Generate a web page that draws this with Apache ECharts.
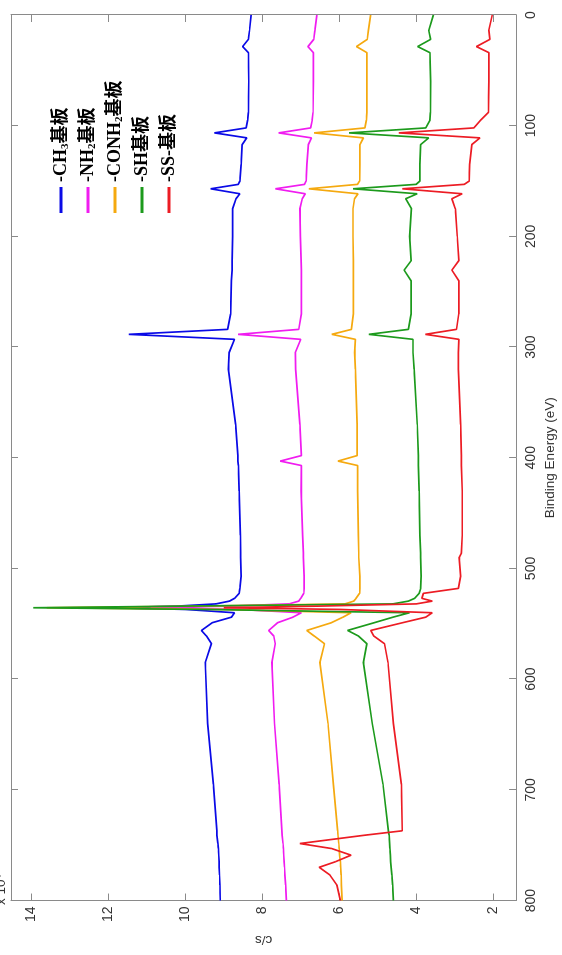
<!DOCTYPE html>
<html>
<head>
<meta charset="utf-8">
<script src="https://cdn.jsdelivr.net/npm/echarts@6/dist/echarts.min.js"></script>
<style>
html,body{margin:0;padding:0;background:#fff;overflow:hidden;}
#wrap{position:absolute;left:0;top:0;width:562px;height:955px;overflow:hidden;background:#fff;}
/* the figure is drawn landscape and turned a quarter turn to the left */
#chart{position:absolute;left:0;top:0;width:955px;height:562px;transform-origin:0 0;transform:translate(0,955px) rotate(-90deg);}
</style>
</head>
<body>
<div id="wrap"><div id="chart"></div></div>
<script>
// binding energy (eV), shared by all spectra
var energy = [0, 14, 22, 28.5, 34, 60, 88, 95, 102, 106.5,
    111, 117, 135, 150, 153, 157, 161.5, 166, 175, 200,
    222, 230.5, 240, 270, 284, 288.5, 293, 305, 320, 370,
    398, 403, 407, 430, 470, 486, 490, 507, 518, 522.5,
    527, 529.5, 532, 534, 535.5, 537, 540, 544, 549, 556,
    561, 568, 585, 640, 695, 737, 741, 748.5, 753, 759,
    765, 770, 777, 786, 800];

// intensities, x 10^4 c/s
var ch3 = [8.29, 8.33, 8.36, 8.51, 8.36, 8.35, 8.36, 8.38, 8.42, 9.24,
    8.40, 8.52, 8.55, 8.58, 8.62, 9.34, 8.58, 8.68, 8.77, 8.77,
    8.78, 8.78, 8.80, 8.82, 8.90, 11.47, 8.72, 8.86, 8.88, 8.69,
    8.63, 8.63, 8.62, 8.60, 8.57, 8.56, 8.56, 8.55, 8.58, 8.60,
    8.72, 8.85, 9.20, 10.2, 11.9, 10.0, 8.72, 8.80, 9.30, 9.58,
    9.45, 9.32, 9.48, 9.42, 9.27, 9.18, 9.18, 9.15, 9.14, 9.13,
    9.12, 9.12, 9.11, 9.10, 9.09];
var nh2 = [6.58, 6.63, 6.66, 6.81, 6.67, 6.67, 6.68, 6.70, 6.74, 7.57,
    6.72, 6.80, 6.84, 6.86, 6.90, 7.66, 6.88, 6.96, 7.02, 7.01,
    6.99, 6.98, 6.98, 6.98, 7.05, 8.63, 7.00, 7.14, 7.13, 7.02,
    6.98, 7.53, 6.98, 6.99, 6.95, 6.93, 6.93, 6.91, 6.91, 6.92,
    7.00, 7.05, 7.30, 8.80, 10.9, 8.60, 6.98, 7.20, 7.60, 7.83,
    7.70, 7.66, 7.75, 7.68, 7.56, 7.49, 7.48, 7.46, 7.45, 7.44,
    7.43, 7.42, 7.41, 7.39, 7.37];
var conh2 = [5.18, 5.24, 5.27, 5.55, 5.28, 5.28, 5.28, 5.29, 5.33, 6.65,
    5.37, 5.46, 5.46, 5.47, 5.52, 6.79, 5.51, 5.60, 5.64, 5.64,
    5.63, 5.63, 5.63, 5.63, 5.68, 6.19, 5.58, 5.60, 5.58, 5.53,
    5.53, 6.03, 5.52, 5.52, 5.50, 5.49, 5.49, 5.46, 5.46, 5.47,
    5.56, 5.62, 5.85, 9.50, 13.6, 9.00, 5.69, 5.90, 6.20, 6.84,
    6.65, 6.38, 6.50, 6.29, 6.15, 6.04, 6.03, 6.01, 6.00, 5.99,
    5.97, 5.96, 5.95, 5.94, 5.92];
var sh = [3.55, 3.67, 3.62, 3.96, 3.64, 3.62, 3.63, 3.64, 3.75, 5.74,
    3.67, 3.88, 3.90, 3.90, 4.00, 5.64, 3.97, 4.27, 4.12, 4.17,
    4.13, 4.31, 4.13, 4.13, 4.20, 5.23, 4.08, 4.08, 4.05, 3.97,
    3.94, 3.94, 3.94, 3.92, 3.90, 3.88, 3.88, 3.87, 3.88, 3.92,
    4.04, 4.20, 4.60, 10.0, 13.95, 9.50, 4.17, 4.60, 5.09, 5.78,
    5.50, 5.28, 5.37, 5.14, 4.86, 4.72, 4.70, 4.69, 4.68, 4.67,
    4.66, 4.65, 4.63, 4.61, 4.59];
var ss = [2.02, 2.11, 2.08, 2.43, 2.11, 2.11, 2.12, 2.32, 2.50, 4.45,
    2.34, 2.55, 2.61, 2.62, 2.75, 4.36, 2.80, 3.07, 2.98, 2.93,
    2.89, 3.07, 2.89, 2.89, 2.95, 3.76, 2.89, 2.90, 2.90, 2.84,
    2.82, 2.82, 2.82, 2.80, 2.80, 2.82, 2.88, 2.84, 2.90, 3.81,
    3.85, 3.58, 3.99, 6.50, 9.00, 6.00, 3.58, 3.75, 4.35, 5.18,
    5.10, 4.82, 4.73, 4.59, 4.38, 4.36, 5.34, 7.02, 6.20, 5.69,
    6.10, 6.52, 6.24, 6.06, 5.97];

var seriesNames = ['-CH3基板', '-NH2基板', '-CONH2基板', '-SH基板', '-SS-基板'];
var seriesColors = ['#0a0ae6', '#f01cf0', '#f5a90f', '#1c9a1c', '#ec1c24'];
var cpsTicks = [2, 4, 6, 8, 10, 12, 14];

var axisGray = '#8a8a8a';
var labelFont = 'Liberation Sans, Arial, sans-serif';

function pairs(vals){
    return energy.map(function(e, i){ return [e, vals[i]]; });
}

var myChart = echarts.init(document.getElementById('chart'));

var energyAxis = {
    type: 'value', min: 0, max: 800, interval: 100, inverse: true,
    axisLine: {show: true, onZero: false, lineStyle: {color: axisGray, width: 1}},
    axisTick: {show: true, inside: true, length: 7, lineStyle: {color: axisGray}},
    splitLine: {show: false}
};
var cpsAxis = {
    type: 'value', min: 1.4, max: 14.53,
    axisLine: {show: true, onZero: false, lineStyle: {color: axisGray, width: 1}},
    axisTick: {show: true, inside: true, length: 7, customValues: cpsTicks, lineStyle: {color: axisGray}},
    splitLine: {show: false}
};

var option = {
    animation: false,
    backgroundColor: '#fff',
    grid: {left: 49, right: 15, top: 11, bottom: 41, containLabel: false},
    legend: {
        orient: 'vertical',
        left: 742, top: 51,
        padding: 0,
        itemGap: 7,
        itemWidth: 26, itemHeight: 3,
        icon: 'rect',
        data: seriesNames,
        formatter: function(name){
            return name.replace(/([0-9])/, '{s|$1}');
        },
        textStyle: {
            fontSize: 18, fontWeight: 'bold', lineHeight: 20, color: '#000',
            fontFamily: 'Liberation Serif, Noto Sans CJK SC, serif',
            rich: {
                s: {fontSize: 11, fontWeight: 'bold', lineHeight: 11, verticalAlign: 'bottom',
                    fontFamily: 'Liberation Serif, serif', color: '#000'}
            }
        }
    },
    xAxis: [
        echarts.util.merge({
            position: 'bottom',
            name: 'Binding Energy (eV)', nameLocation: 'middle', nameGap: 24,
            nameTextStyle: {fontSize: 13.5, color: '#333', fontFamily: labelFont},
            axisLabel: {show: true, margin: 8, fontSize: 14, color: '#333', fontFamily: labelFont}
        }, energyAxis, true),
        echarts.util.merge({position: 'top', axisLabel: {show: false}}, energyAxis, true)
    ],
    yAxis: [
        echarts.util.merge({
            position: 'left',
            name: 'c/s', nameLocation: 'middle', nameGap: 28,
            nameTextStyle: {fontSize: 13.5, color: '#333', fontFamily: labelFont},
            axisLabel: {show: true, margin: 6, fontSize: 14, color: '#333', fontFamily: labelFont, customValues: cpsTicks}
        }, cpsAxis, true),
        echarts.util.merge({position: 'right', axisLabel: {show: false}}, cpsAxis, true)
    ],
    graphic: [{
        type: 'text', left: 50, top: -6,
        style: {
            text: 'x 10{p|4}',
            fontSize: 13.5, fill: '#333', fontFamily: labelFont,
            rich: {p: {fontSize: 9, verticalAlign: 'top', fill: '#333', fontFamily: labelFont}}
        }
    }],
    series: []
};

[ch3, nh2, conh2, sh, ss].forEach(function(vals, i){
    option.series.push({
        name: seriesNames[i],
        type: 'line',
        xAxisIndex: 0, yAxisIndex: 0,
        data: pairs(vals),
        symbol: 'none',
        showSymbol: false,
        color: seriesColors[i],
        lineStyle: {width: 1.7, color: seriesColors[i]},
        z: 2 + i
    });
});

myChart.setOption(option);
</script>
</body>
</html>
